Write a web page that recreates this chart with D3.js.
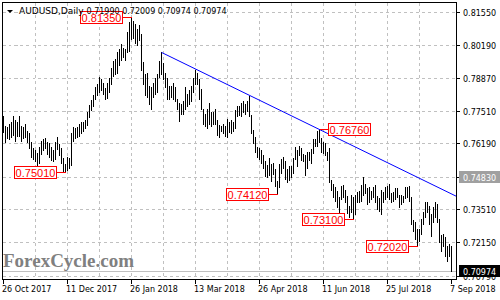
<!DOCTYPE html>
<html>
<head>
<meta charset="utf-8">
<script src="https://cdn.jsdelivr.net/npm/d3@7"></script>
<style>
html, body { margin: 0; padding: 0; background: #fff; }
svg { display: block; }
text { font-family: "DejaVu Sans", Tahoma, sans-serif; }
</style>
</head>
<body>
<div id="chart"></div>
<script>
// daily bars, 26 Oct 2017 .. 7 Sep 2018
let highs = [
0.7730,0.7690,0.7685,0.7700,0.7705,0.7730,0.7715,0.7705,0.7730,0.7690,
0.7685,0.7700,0.7670,0.7660,0.7625,0.7600,0.7590,0.7580,0.7605,0.7630,
0.7635,0.7640,0.7625,0.7620,0.7605,0.7590,0.7625,0.7645,0.7615,0.7600,
0.7560,0.7535,0.7565,0.7560,0.7660,0.7685,0.7680,0.7685,0.7700,0.7705,
0.7705,0.7715,0.7745,0.7775,0.7795,0.7815,0.7850,0.7860,0.7890,0.7880,
0.7865,0.7845,0.7865,0.7885,0.7925,0.7955,0.7965,0.7990,0.8005,0.8025,
0.8010,0.8005,0.8075,0.8115,0.8135,0.8120,0.8105,0.8085,0.8100,0.8065,
0.7950,0.7900,0.7905,0.7855,0.7850,0.7865,0.7885,0.7900,0.7955,0.7990,
0.7945,0.7905,0.7885,0.7855,0.7855,0.7865,0.7850,0.7800,0.7785,0.7780,
0.7790,0.7850,0.7820,0.7835,0.7855,0.7885,0.7917,0.7905,0.7880,0.7840,
0.7760,0.7740,0.7760,0.7785,0.7745,0.7745,0.7760,0.7715,0.7695,0.7690,
0.7700,0.7690,0.7720,0.7705,0.7715,0.7705,0.7755,0.7770,0.7770,0.7785,
0.7790,0.7780,0.7790,0.7812,0.7735,0.7675,0.7645,0.7605,0.7600,0.7590,
0.7570,0.7545,0.7530,0.7560,0.7535,0.7540,0.7515,0.7465,0.7535,0.7555,
0.7565,0.7545,0.7515,0.7525,0.7525,0.7560,0.7605,0.7590,0.7610,0.7600,
0.7575,0.7570,0.7585,0.7585,0.7595,0.7635,0.7635,0.7670,0.7676,0.7640,
0.7625,0.7620,0.7585,0.7600,0.7470,0.7455,0.7440,0.7425,0.7400,0.7445,
0.7450,0.7430,0.7405,0.7365,0.7410,0.7400,0.7410,0.7420,0.7425,0.7450,
0.7480,0.7455,0.7435,0.7440,0.7425,0.7440,0.7450,0.7405,0.7395,0.7430,
0.7420,0.7440,0.7445,0.7455,0.7415,0.7420,0.7435,0.7435,0.7410,0.7410,
0.7405,0.7440,0.7440,0.7445,0.7400,0.7305,0.7300,0.7270,0.7270,0.7310,
0.7340,0.7380,0.7380,0.7365,0.7330,0.7360,0.7380,0.7370,0.7310,0.7245,
0.7250,0.7235,0.7200,0.7210,0.72009
];
let lows = [
0.7665,0.7625,0.7640,0.7635,0.7645,0.7655,0.7630,0.7650,0.7650,0.7630,
0.7640,0.7645,0.7625,0.7600,0.7565,0.7555,0.7545,0.7532,0.7540,0.7575,
0.7590,0.7600,0.7575,0.7565,0.7550,0.7545,0.7555,0.7595,0.7570,0.7540,
0.7505,0.7501,0.7510,0.7520,0.7530,0.7630,0.7640,0.7645,0.7650,0.7660,
0.7670,0.7680,0.7695,0.7725,0.7755,0.7770,0.7800,0.7815,0.7830,0.7835,
0.7820,0.7800,0.7805,0.7830,0.7860,0.7895,0.7900,0.7905,0.7940,0.7960,
0.7970,0.7960,0.7990,0.7995,0.8045,0.8050,0.8030,0.8020,0.8040,0.7920,
0.7860,0.7815,0.7810,0.7780,0.7760,0.7810,0.7820,0.7830,0.7890,0.7900,
0.7880,0.7850,0.7800,0.7800,0.7810,0.7800,0.7790,0.7760,0.7712,0.7740,
0.7740,0.7760,0.7770,0.7780,0.7790,0.7830,0.7860,0.7860,0.7800,0.7760,
0.7700,0.7690,0.7680,0.7700,0.7690,0.7700,0.7700,0.7655,0.7645,0.7670,
0.7660,0.7650,0.7645,0.7665,0.7660,0.7670,0.7680,0.7730,0.7735,0.7730,
0.7745,0.7740,0.7750,0.7730,0.7660,0.7620,0.7585,0.7565,0.7555,0.7540,
0.7520,0.7485,0.7480,0.7490,0.7465,0.7495,0.7445,0.7412,0.7440,0.7500,
0.7520,0.7475,0.7460,0.7470,0.7480,0.7500,0.7555,0.7525,0.7570,0.7550,
0.7545,0.7490,0.7520,0.7550,0.7540,0.7580,0.7610,0.7610,0.7625,0.7585,
0.7580,0.7570,0.7550,0.7460,0.7430,0.7400,0.7385,0.7360,0.7330,0.7390,
0.7400,0.7380,0.7335,0.7320,0.7340,0.7310,0.7330,0.7380,0.7380,0.7385,
0.7410,0.7415,0.7370,0.7380,0.7390,0.7400,0.7380,0.7350,0.7345,0.7330,
0.7380,0.7390,0.7400,0.7390,0.7380,0.7385,0.7390,0.7400,0.7360,0.7370,
0.7380,0.7395,0.7400,0.7385,0.7290,0.7260,0.7230,0.7202,0.7220,0.7250,
0.7290,0.7320,0.7340,0.7290,0.7240,0.7300,0.7320,0.7300,0.7215,0.7180,
0.7200,0.7160,0.7140,0.7160,0.70974
];

let tickLabels = ["26 Oct 2017", "11 Dec 2017", "26 Jan 2018", "13 Mar 2018", "26 Apr 2018", "11 Jun 2018", "25 Jul 2018", "7 Sep 2018"];
let priceLevels = [0.81550, 0.80190, 0.78870, 0.77510, 0.76190, 0.74830, 0.73510, 0.72150, 0.70790];
let markedLevel = 0.74830;

let peakIdx = [64, 31, 137, 158, 175, 207];
let peakVals = [0.81350, 0.75010, 0.74120, 0.76760, 0.73100, 0.72020];
let peakSide = ["left", "left", "left", "right", "left", "left"];

let trendIdx = [79, 158];
let trendVals = [0.7990, 0.7676];

let symbol = "AUDUSD,Daily";
let lastOHLC = [0.71990, 0.72009, 0.70974, 0.70974];

let svg = d3.select("#chart").append("svg")
    .attr("width", 500)
    .attr("height", 300);

let L = 2.5, R = 456.5, T = 2.5, B = 279.5;

let x = d3.scaleLinear().domain([0, 227]).range([3, 457]);
let y = d3.scaleLinear().domain([0.8155, 0.7079]).range([12, 275.7]);
let px = i => x(i) + 0.5;
let py = v => Math.round(y(v)) + 0.5;

// grid
let grid = svg.append("g")
    .attr("stroke", "#c0c0c0")
    .attr("stroke-dasharray", "3,3")
    .attr("shape-rendering", "crispEdges");

grid.selectAll("line.v")
    .data(d3.range(16, 224, 16))
    .join("line")
    .attr("x1", d => px(d)).attr("x2", d => px(d))
    .attr("y1", T).attr("y2", B);

grid.selectAll("line.h")
    .data(priceLevels)
    .join("line")
    .attr("class", "h")
    .attr("x1", L).attr("x2", R)
    .attr("y1", d => py(d)).attr("y2", d => py(d));

// last price line
let last = lastOHLC[3];
svg.append("line")
    .attr("x1", L).attr("x2", R)
    .attr("y1", py(last)).attr("y2", py(last))
    .attr("stroke", "#c0c0c0")
    .attr("shape-rendering", "crispEdges");

// watermark
svg.append("text")
    .attr("x", 3)
    .attr("y", 267)
    .style("font-family", "'Liberation Serif', 'Times New Roman', serif")
    .style("font-weight", "bold")
    .style("font-size", "19px")
    .attr("fill", "#808080")
    .text("ForexCycle.com");

// bars
svg.append("g")
    .attr("stroke", "#000")
    .attr("shape-rendering", "crispEdges")
    .selectAll("line")
    .data(highs.map((h, i) => ({i: i, h: h, l: lows[i]})))
    .join("line")
    .attr("x1", d => px(d.i)).attr("x2", d => px(d.i))
    .attr("y1", d => Math.round(y(d.h)))
    .attr("y2", d => Math.round(y(d.l)) + 1);

// trend line
let slope = (trendVals[1] - trendVals[0]) / (trendIdx[1] - trendIdx[0]);
let endIdx = x.invert(R);
svg.append("line")
    .attr("x1", px(trendIdx[0]))
    .attr("y1", y(trendVals[0]))
    .attr("x2", R)
    .attr("y2", y(trendVals[0] + slope * (endIdx - trendIdx[0])))
    .attr("stroke", "#0000ff")
    .attr("stroke-width", 1);

// peak labels
let peaks = svg.append("g");
peakIdx.forEach(function(d, k) {
    let bx = px(d);
    let yy = py(peakVals[k]);
    let w = 42, h = 12;
    let left = peakSide[k] == "left" ? Math.round(bx - 10 - w) + 0.5 : Math.round(bx + 8) + 0.5;
    let lx1 = peakSide[k] == "left" ? left + w : left;
    peaks.append("line")
        .attr("x1", lx1).attr("x2", bx)
        .attr("y1", yy).attr("y2", yy)
        .attr("stroke", "#ff0000")
        .attr("shape-rendering", "crispEdges");
    peaks.append("rect")
        .attr("x", left).attr("y", yy - 6)
        .attr("width", w).attr("height", h)
        .attr("fill", "#fff")
        .attr("stroke", "#ff0000")
        .attr("shape-rendering", "crispEdges");
    peaks.append("text")
        .attr("x", left + w / 2)
        .attr("y", yy + 4)
        .attr("text-anchor", "middle")
        .style("font-family", "'Liberation Sans', Arial, sans-serif")
        .style("font-size", "11px")
        .attr("fill", "#ff0000")
        .text(peakVals[k].toFixed(5));
});

// frame
svg.append("rect")
    .attr("x", L).attr("y", T)
    .attr("width", R - L).attr("height", B - T)
    .attr("fill", "none")
    .attr("stroke", "#000")
    .attr("shape-rendering", "crispEdges");

// right axis
let yAxis = svg.append("g").style("font-size", "8px");
priceLevels.forEach(function(v) {
    yAxis.append("line")
        .attr("x1", R).attr("x2", R + 3)
        .attr("y1", py(v)).attr("y2", py(v))
        .attr("stroke", "#000")
        .attr("shape-rendering", "crispEdges");
    let isMarked = v == markedLevel;
    if (isMarked) {
        yAxis.append("rect")
            .attr("x", 459).attr("y", py(v) - 6.5)
            .attr("width", 41).attr("height", 12)
            .attr("fill", "#a0a0a0");
    }
    yAxis.append("text")
        .attr("x", 463)
        .attr("y", py(v) + 3)
        .attr("fill", isMarked ? "#fff" : "#000")
        .text(v.toFixed(5));
});

// last price box
yAxis.append("rect")
    .attr("x", 459).attr("y", py(last) - 6.5)
    .attr("width", 41).attr("height", 12)
    .attr("fill", "#000");
yAxis.append("text")
    .attr("x", 463)
    .attr("y", py(last) + 3)
    .attr("fill", "#fff")
    .text(last.toFixed(5));

// bottom axis
let xAxis = svg.append("g").style("font-size", "8px");
tickLabels.forEach(function(t, k) {
    let xi = px(k * 32);
    xAxis.append("line")
        .attr("x1", xi).attr("x2", xi)
        .attr("y1", B).attr("y2", B + 4)
        .attr("stroke", "#000")
        .attr("shape-rendering", "crispEdges");
    xAxis.append("text")
        .attr("x", xi - 1.5)
        .attr("y", 292)
        .attr("fill", "#000")
        .text(t);
});

// title
svg.append("path")
    .attr("d", "M7,10 L13,10 L10,13 Z")
    .attr("fill", "#000");
let title = svg.append("text")
    .attr("x", 19)
    .attr("y", 14)
    .attr("fill", "#000");
title.append("tspan")
    .style("font-size", "9px")
    .text(symbol);
title.append("tspan")
    .style("font-size", "8px")
    .attr("dx", 3)
    .text(lastOHLC.map(d => d.toFixed(5)).join(" "));
</script>
</body>
</html>
